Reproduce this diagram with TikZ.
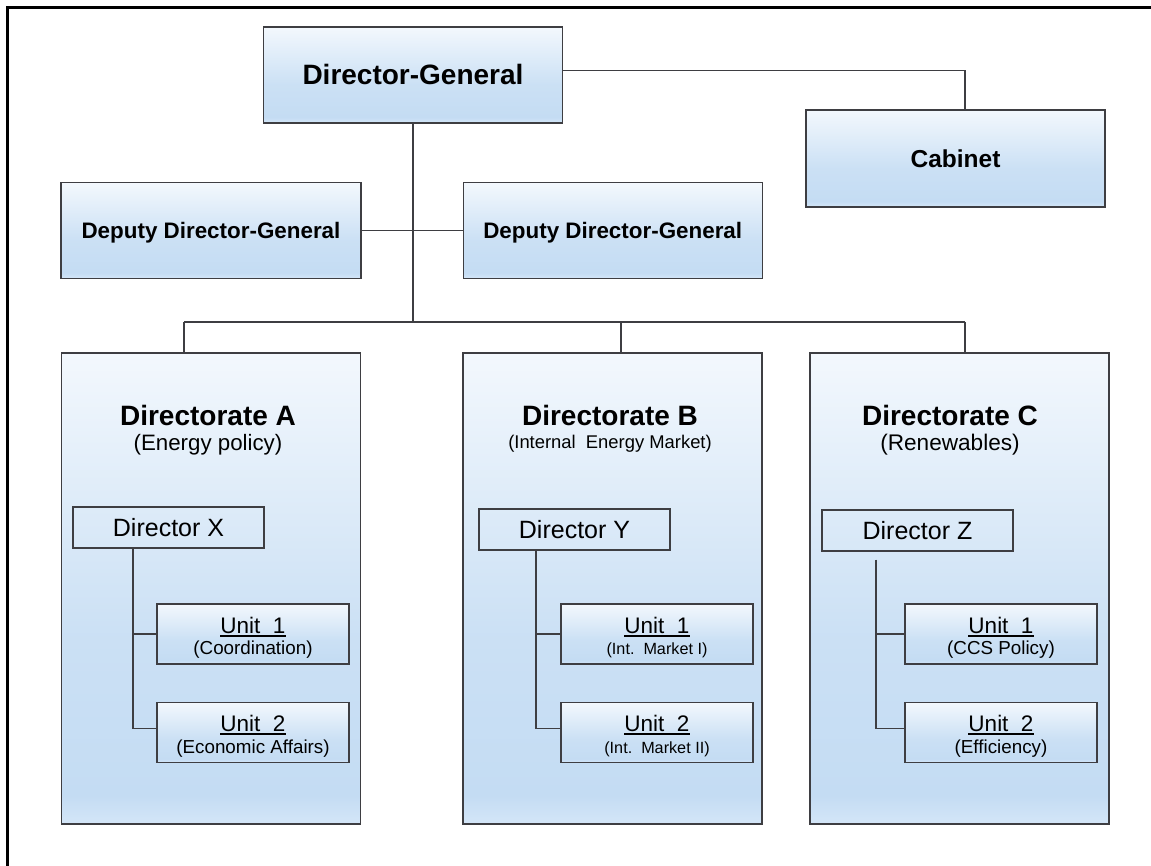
\documentclass[tikz,border=0pt]{standalone}
\usepackage{fontspec}
\setmainfont{Liberation Sans}
\definecolor{boxtop}{RGB}{243,248,253}
\definecolor{boxbot}{RGB}{196,220,243}
\definecolor{boxlow}{RGB}{212,230,248}
\definecolor{edge}{RGB}{62,62,66}
\pgfdeclareverticalshading{boxshade}{100bp}{color(0bp)=(boxlow); color(25bp)=(boxlow); color(28bp)=(boxbot); color(45bp)=(boxbot!85!boxtop); color(75bp)=(boxtop); color(100bp)=(boxtop)}
\newcommand{\ulx}[1]{\setbox0\hbox{#1}\rlap{\vrule height -2pt depth 3.6pt width \wd0}\box0}
\begin{document}
\begin{tikzpicture}[x=1pt,y=-1pt,
  bbox/.style={rectangle, draw=edge, line width=1.3pt, shade, shading=boxshade, inner sep=0pt},
  dbox/.style={rectangle, draw=edge, line width=1.3pt, inner sep=0pt, minimum width=191pt, minimum height=41pt, text height=18pt, text depth=0pt, font=\fontsize{25}{30}\selectfont},
  ubox/.style={bbox, minimum width=192pt, minimum height=60pt},
  dirbox/.style={bbox, minimum width=299pt, minimum height=471pt},
  ttl/.style={anchor=base, inner sep=0pt, font=\fontsize{28}{32}\selectfont\bfseries},
  utitle/.style={anchor=base, inner sep=0pt, font=\fontsize{22.5}{26}\selectfont},
  usub/.style={anchor=base, inner sep=0pt, font=\fontsize{18.8}{22}\selectfont},
  conn/.style={draw=edge, line width=1.2pt}]
\useasboundingbox (0,0) rectangle (1151,866);
\draw[line width=3pt, black] (7.5,866) -- (7.5,7.5) -- (1151,7.5);

\coordinate (jA) at (184,322);
\coordinate (jB) at (621,322);
\coordinate (jC) at (965,322);

% top level boxes
\node[bbox, minimum width=299pt, minimum height=96pt, text height=20pt, text depth=0pt, font=\fontsize{28}{32}\selectfont\bfseries] (dg) at (413,75) {Director-General};
\node[bbox, minimum width=300pt, minimum height=96pt, text height=16pt, text depth=0pt, font=\fontsize{22.4}{26}\selectfont\bfseries] (depl) at (211,230.5) {Deputy Director-General};
\node[bbox, minimum width=299pt, minimum height=96pt, text height=16pt, text depth=0pt, font=\fontsize{22.4}{26}\selectfont\bfseries] (depr) at (612.75,230.5) {Deputy Director-General};
\node[bbox, minimum width=299pt, minimum height=97pt, text height=17.5pt, text depth=0pt, font=\fontsize{24.5}{28}\selectfont\bfseries] (cab) at (955.5,158.5) {Cabinet};

\draw[conn] ([yshift=4.3pt]dg.east) -| ([xshift=9.5pt]cab.north);
\draw[conn] (dg.south) -- (dg.south |- jA);
\draw[conn] (depl.east) -- (depr.west);
\draw[conn] (jA) -- (jC);

% directorates
\node[dirbox] (dira) at (211,588.5) {};
\node[dirbox] (dirb) at (612.5,588.5) {};
\node[dirbox] (dirc) at (959.5,588.5) {};
\draw[conn] (jA) -- (jA |- dira.north);
\draw[conn] (jB) -- (jB |- dirb.north);
\draw[conn] (jC) -- (jC |- dirc.north);

\node[ttl] (ta) at (208,425) {Directorate A};
\node[anchor=base, inner sep=0pt, font=\fontsize{22.3}{26}\selectfont] (sa) at (208,450) {(Energy policy)};
\node[ttl] (tb) at (610,425) {Directorate B};
\node[anchor=base, inner sep=0pt, font=\fontsize{18.4}{22}\selectfont] (sb) at (610,448) {(Internal\ \ Energy Market)};
\node[ttl] (tc) at (950,425) {Directorate C};
\node[anchor=base, inner sep=0pt, font=\fontsize{22.6}{26}\selectfont] (sc) at (950,450) {(Renewables)};

% directors
\node[dbox] (dx) at (168.5,527.5) {Director X};
\node[dbox] (dy) at (574.5,529.5) {Director Y};
\node[dbox] (dz) at (917.5,530.5) {Director Z};

% units
\node[ubox] (a1) at (253,634) {};
\node[ubox] (a2) at (253,732.5) {};
\node[ubox] (b1) at (657,634) {};
\node[ubox] (b2) at (657,732.5) {};
\node[ubox] (c1) at (1001,634) {};
\node[ubox] (c2) at (1001,732.5) {};

\draw[conn] ([xshift=-35.5pt]dx.south) |- ([yshift=4pt]a2.west);
\draw[conn] (a1.west) -- ([xshift=-35.5pt]dx.south |- a1.west);
\draw[conn] ([xshift=-38.5pt]dy.south) |- ([yshift=4pt]b2.west);
\draw[conn] (b1.west) -- ([xshift=-38.5pt]dy.south |- b1.west);
\draw[conn] ([xshift=-41.5pt,yshift=-8pt]dz.south) |- ([yshift=4pt]c2.west);
\draw[conn] (c1.west) -- ([xshift=-41.5pt]dz.south |- c1.west);

\node[utitle] (a1t) at ([yshift=1pt]a1.center) {\ulx{Unit\ \ 1}};
\node[usub] (a1s) at ([yshift=-20pt]a1.center) {(Coordination)};
\node[utitle] (a2t) at ([yshift=1.5pt]a2.center) {\ulx{Unit\ \ 2}};
\node[usub] (a2s) at ([yshift=-20.5pt]a2.center) {(Economic Affairs)};

\node[utitle] (b1t) at ([yshift=1pt]b1.center) {\ulx{Unit\ \ 1}};
\node[usub, font=\fontsize{16.2}{20}\selectfont] (b1s) at ([yshift=-20pt]b1.center) {(Int.\ \ Market I)};
\node[utitle] (b2t) at ([yshift=1.5pt]b2.center) {\ulx{Unit\ \ 2}};
\node[usub, font=\fontsize{16.2}{20}\selectfont] (b2s) at ([yshift=-20.5pt]b2.center) {(Int.\ \ Market II)};

\node[utitle] (c1t) at ([yshift=1pt]c1.center) {\ulx{Unit\ \ 1}};
\node[usub] (c1s) at ([yshift=-20pt]c1.center) {(CCS Policy)};
\node[utitle] (c2t) at ([yshift=1.5pt]c2.center) {\ulx{Unit\ \ 2}};
\node[usub] (c2s) at ([yshift=-20.5pt]c2.center) {(Efficiency)};
\end{tikzpicture}
\end{document}
